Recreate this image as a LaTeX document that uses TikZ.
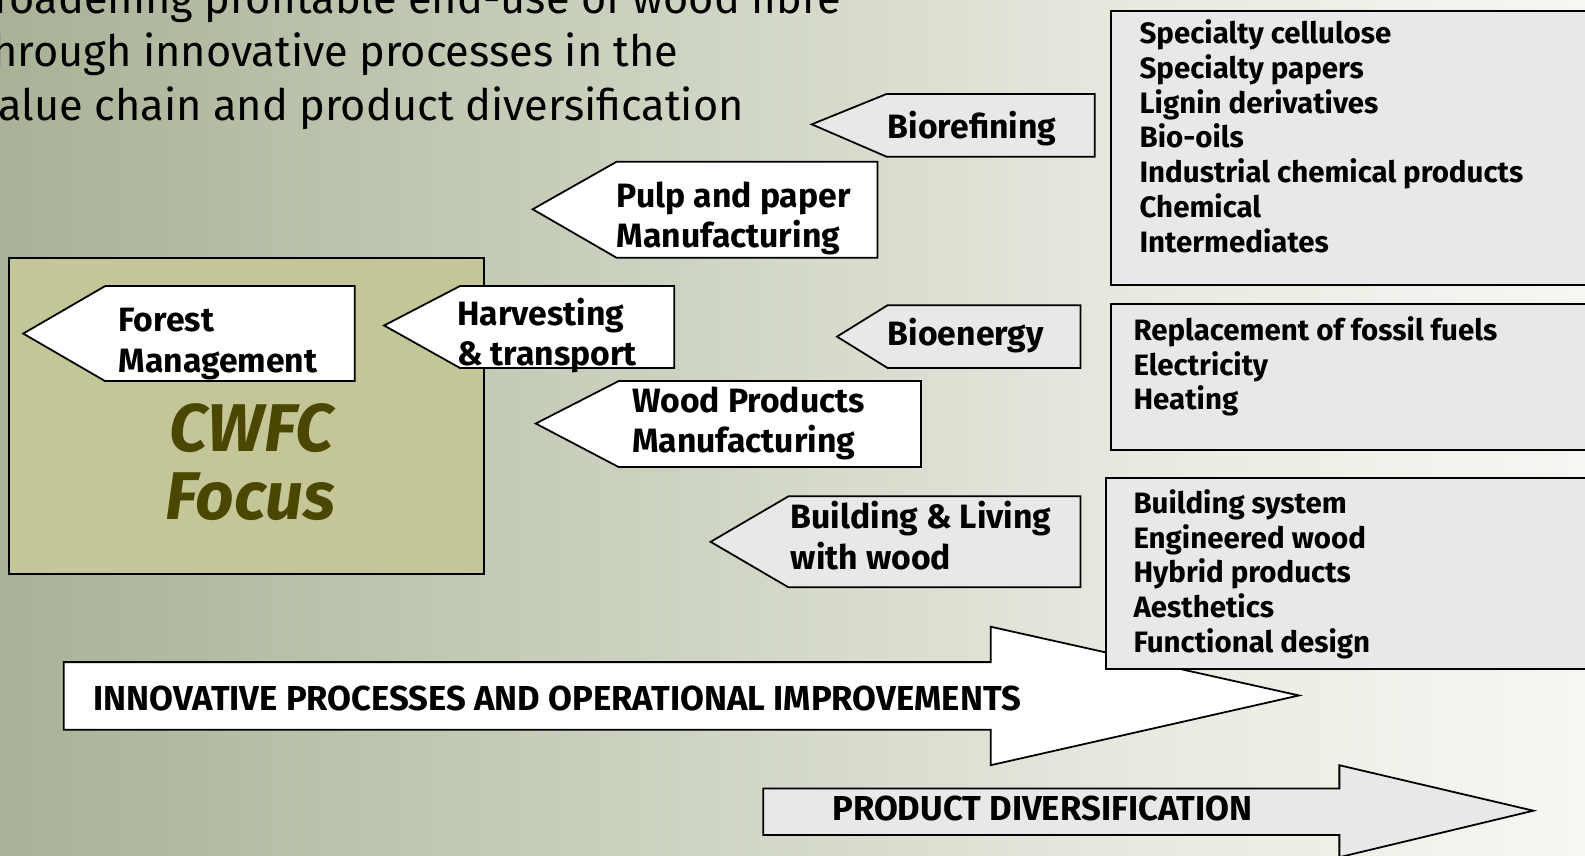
\documentclass[tikz,border=0pt]{standalone}
\usepackage{fontspec}
\setmainfont{Fira Sans}

\definecolor{bgleft}{RGB}{168,178,150}
\definecolor{bgmid}{RGB}{232,235,225}
\definecolor{bgright}{RGB}{246,247,242}
\definecolor{boxgrey}{RGB}{232,232,232}
\definecolor{focusfill}{RGB}{196,198,152}
\definecolor{focusink}{RGB}{74,72,0}

\tikzset{
  whitearrow/.style={draw=black, line width=1pt, fill=white},
  greyarrow/.style={draw=black, line width=1pt, fill=boxgrey},
  listbox/.style={draw=black, line width=1pt, fill=boxgrey},
  focusbox/.style={draw=black, line width=1pt, fill=focusfill},
  titletext/.style={anchor=base west, inner sep=0pt, font=\fontsize{24.4}{30}\selectfont},
  arrowtext/.style={anchor=base west, inner sep=0pt, align=left,
    font=\bfseries\fontsize{19}{22.8}\selectfont},
  listtext/.style={anchor=base west, inner sep=0pt,
    font=\bfseries\fontsize{16.6}{19.6}\selectfont},
  bandtext/.style={anchor=base west, inner sep=0pt,
    font=\bfseries\fontsize{19.5}{22}\selectfont},
  focustext/.style={anchor=base, inner sep=0pt, text=focusink,
    font=\bfseries\itshape\fontsize{38}{40}\selectfont}
}

\begin{document}
\begin{tikzpicture}[x=0.02cm, y=-0.02cm]
\useasboundingbox (0,0) rectangle (1568,846);
% background
\shade [left color=bgleft, right color=bgmid] (0,0) rectangle (1150,846);
\shade [left color=bgmid, right color=bgright] (1150,0) rectangle (1568,846);

% heading
\node [titletext] (head1) at (-6,13) {roadening profitable end-use of wood fibre};
\node [titletext] (head2) at (-8,66) {hrough innovative processes in the};
\node [titletext] (head3) at (-2,119) {alue chain and product diversification};

% CWFC focus
\draw [focusbox] (9,255) rectangle (479,568);
\node [focustext] (cwfc) at (249,447) {CWFC};
\node [focustext] (focus) at (248,514) {Focus};

% value chain arrows (base = last line)
\draw [whitearrow] (23,330) -- (104,283) -- (351,283) -- (351,377) -- (104,377) -- cycle;
\node [arrowtext] (forest) at (117,368) {Forest\\Management};
\draw [whitearrow] (380,322) -- (455,283) -- (667,283) -- (667,364) -- (455,364) -- cycle;
\node [arrowtext] (harvest) at (452,362) {Harvesting\\\& transport};
\draw [whitearrow] (527,207) -- (610,160) -- (868,160) -- (868,255) -- (610,255) -- cycle;
\node [arrowtext] (pulp) at (610,245) {Pulp and paper\\Manufacturing};
\draw [whitearrow] (530,419) -- (612,377) -- (911,377) -- (911,462) -- (612,462) -- cycle;
\node [arrowtext] (woodprod) at (625,448) {Wood Products\\Manufacturing};
\draw [greyarrow] (803,123) -- (877,93) -- (1083,93) -- (1083,155) -- (877,155) -- cycle;
\node [arrowtext] (bioref) at (878,137) {Biorefining};
\draw [greyarrow] (828,333) -- (878,302) -- (1069,302) -- (1069,364) -- (878,364) -- cycle;
\node [arrowtext] (bioen) at (878,342) {Bioenergy};
\draw [greyarrow] (703,536) -- (780,491) -- (1069,491) -- (1069,581) -- (780,581) -- cycle;
\node [arrowtext] (building) at (782,563) {Building \& Living\\with wood};

% innovation band
\draw [whitearrow] (63,655) -- (980,655) -- (980,620) -- (1285,688) -- (980,757) -- (980,722) -- (63,722) -- cycle;
\node [bandtext] (innov) at (92,703) {INNOVATIVE PROCESSES AND OPERATIONAL IMPROVEMENTS};
\draw [greyarrow] (755,780) -- (1325,780) -- (1325,757) -- (1517,802) -- (1325,848) -- (1325,826) -- (755,826) -- cycle;
\node [bandtext] (diversif) at (823,812) {PRODUCT DIVERSIFICATION};

% product lists
\draw [listbox] (1099,11) rectangle (1600,282);
\foreach \item [count=\i from 0] in {Specialty cellulose, Specialty papers,
    Lignin derivatives, Bio-oils, Industrial chemical products, Chemical, Intermediates}
  \node [listtext] (refine\i) at (1127,43+34.4*\i) {\item};
\draw [listbox] (1099,301) rectangle (1600,445);
\foreach \item [count=\i from 0] in {Replacement of fossil fuels, Electricity, Heating}
  \node [listtext] (energy\i) at (1121,337+34.2*\i) {\item};
\draw [listbox] (1094,473) rectangle (1600,662);
\foreach \item [count=\i from 0] in {Building system, Engineered wood, Hybrid products,
    Aesthetics, Functional design}
  \node [listtext] (build\i) at (1121,508+34.3*\i) {\item};
\end{tikzpicture}
\end{document}
